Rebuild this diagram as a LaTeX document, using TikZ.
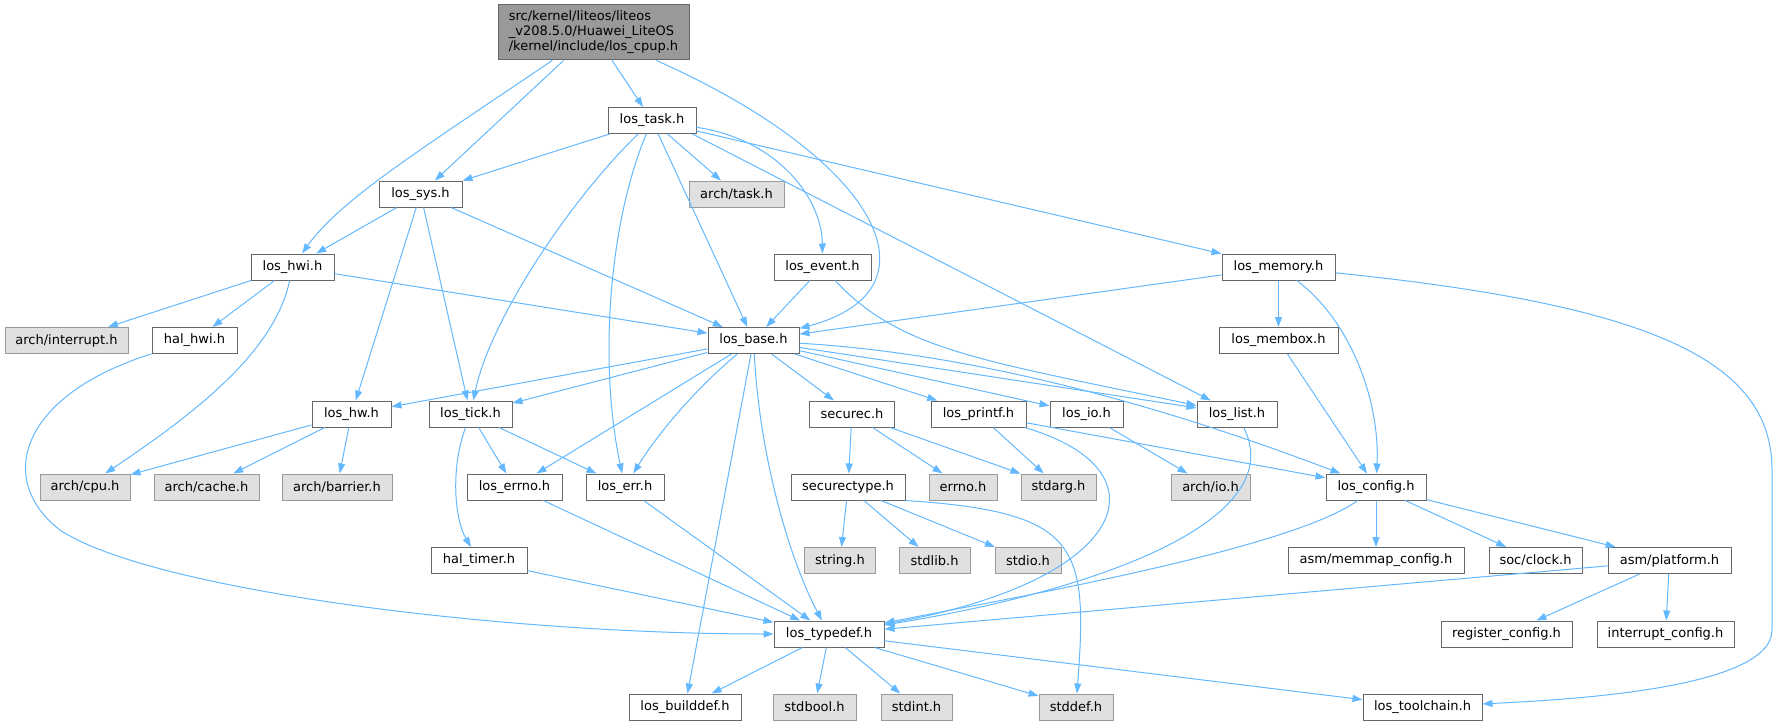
\documentclass[tikz,border=0pt]{standalone}
\usepackage{fontspec}
\setmainfont{DejaVu Sans}
\usetikzlibrary{arrows.meta}
\definecolor{edgeblue}{HTML}{63B8FF}
\definecolor{darkgrey}{HTML}{666666}
\definecolor{midgrey}{HTML}{999999}
\definecolor{lightgrey}{HTML}{E0E0E0}

\begin{document}
\begin{tikzpicture}[x=1pt,y=-1pt,
	file/.style={draw=darkgrey,fill=white,line width=1pt,minimum height=26pt,inner sep=0pt,font=\fontsize{13}{15}\selectfont},
	sysfile/.style={file,draw=midgrey,fill=lightgrey},
	rootfile/.style={file,draw=darkgrey,fill=midgrey,align=left,minimum height=55pt},
	edge/.style={draw=edgeblue,line width=1pt,-{Triangle[length=10pt,width=7pt]}}]
	\useasboundingbox (0,0) rectangle (1778,725);

	\node[rootfile,minimum width=191pt] (cpup) at (593.5,32.5) {src/kernel/liteos/liteos\\\_v208.5.0/Huawei\_LiteOS\\/kernel/include/los\_cpup.h};
	\node[file,minimum width=88pt] (task) at (652,120.5) {los\_task.h};
	\node[file,minimum width=83pt] (sys) at (420.5,194) {los\_sys.h};
	\node[sysfile,minimum width=95pt] (archtask) at (736.5,194) {arch/task.h};
	\node[file,minimum width=83pt] (hwi) at (292.5,267) {los\_hwi.h};
	\node[file,minimum width=97pt] (event) at (822.5,267) {los\_event.h};
	\node[file,minimum width=113pt] (memory) at (1278.5,267) {los\_memory.h};
	\node[sysfile,minimum width=123pt] (archint) at (66.5,340.5) {arch/interrupt.h};
	\node[file,minimum width=85pt] (halhwi) at (194.5,340.5) {hal\_hwi.h};
	\node[file,minimum width=91pt] (base) at (753.5,340.5) {los\_base.h};
	\node[file,minimum width=119pt] (membox) at (1278.5,340.5) {los\_membox.h};
	\node[file,minimum width=79pt] (hw) at (351.5,414) {los\_hw.h};
	\node[file,minimum width=83pt] (tick) at (470.5,414) {los\_tick.h};
	\node[file,minimum width=85pt] (securec) at (852,414) {securec.h};
	\node[file,minimum width=95pt] (printf) at (978.5,414) {los\_printf.h};
	\node[file,minimum width=73pt] (io) at (1086.5,414) {los\_io.h};
	\node[file,minimum width=80pt] (list) at (1237,414) {los\_list.h};
	\node[sysfile,minimum width=90pt] (cpu) at (85,487) {arch/cpu.h};
	\node[sysfile,minimum width=105pt] (cache) at (206.5,487) {arch/cache.h};
	\node[sysfile,minimum width=110pt] (barrier) at (337,487) {arch/barrier.h};
	\node[file,minimum width=95pt] (errno) at (514.5,487) {los\_errno.h};
	\node[file,minimum width=78pt] (err) at (625,487) {los\_err.h};
	\node[file,minimum width=114pt] (securetype) at (848,487) {securectype.h};
	\node[sysfile,minimum width=68pt] (syserrno) at (963,487) {errno.h};
	\node[sysfile,minimum width=75pt] (stdarg) at (1058.5,487) {stdarg.h};
	\node[sysfile,minimum width=79pt] (archio) at (1210.5,487) {arch/io.h};
	\node[file,minimum width=100pt] (config) at (1376,487) {los\_config.h};
	\node[file,minimum width=96pt] (timer) at (479,560.5) {hal\_timer.h};
	\node[sysfile,minimum width=71pt] (string) at (840,560.5) {string.h};
	\node[sysfile,minimum width=71pt] (stdlib) at (934.5,560.5) {stdlib.h};
	\node[sysfile,minimum width=66pt] (stdio) at (1028,560.5) {stdio.h};
	\node[file,minimum width=176pt] (memmap) at (1376,560.5) {asm/memmap\_config.h};
	\node[file,minimum width=93pt] (clock) at (1535.5,560.5) {soc/clock.h};
	\node[file,minimum width=123pt] (platform) at (1669.5,560.5) {asm/platform.h};
	\node[file,minimum width=110pt] (typedef) at (829,634) {los\_typedef.h};
	\node[file,minimum width=131pt] (regcfg) at (1506.5,634) {register\_config.h};
	\node[file,minimum width=137pt] (intcfg) at (1665.5,634) {interrupt\_config.h};
	\node[file,minimum width=112pt] (builddef) at (685,707) {los\_builddef.h};
	\node[sysfile,minimum width=83pt] (stdbool) at (814.5,707) {stdbool.h};
	\node[sysfile,minimum width=71pt] (stdint) at (916.5,707) {stdint.h};
	\node[sysfile,minimum width=74pt] (stddef) at (1076,707) {stddef.h};
	\node[file,minimum width=119pt] (toolchain) at (1422.5,707) {los\_toolchain.h};

	\foreach \a/\b in {cpup/sys,cpup/task,task/sys,task/base,task/archtask,task/memory,
		sys/hwi,sys/hw,sys/tick,sys/base,hwi/archint,hwi/halhwi,hwi/base,event/base,
		memory/base,memory/membox,membox/config,base/hw,base/tick,base/errno,base/builddef,
		base/securec,base/printf,base/io,base/list,hw/cpu,hw/cache,hw/barrier,tick/errno,tick/err,
		securec/securetype,securec/syserrno,securec/stdarg,printf/stdarg,printf/config,io/archio,
		errno/typedef,err/typedef,timer/typedef,securetype/string,securetype/stdlib,securetype/stdio,
		config/memmap,config/clock,config/platform,platform/regcfg,platform/intcfg,platform/typedef,
		typedef/builddef,typedef/stdbool,typedef/stdint,typedef/stddef,typedef/toolchain}{
		\draw[edge] (\a) -- (\b);
	}

	\draw[edge] ([xshift=-4pt]task.south east) -- (list);
	\draw[edge] (cpup) .. controls (420,150) and (340,200) .. (hwi);
	\draw[edge] (cpup) .. controls (880,160) and (945,290) .. (base);
	\draw[edge] (task) .. controls (570,200) and (490,320) .. (tick);
	\draw[edge] (task) .. controls (610,220) and (598,360) .. (err);
	\draw[edge] (task) .. controls (780,140) and (822,200) .. (event);
	\draw[edge] (event) .. controls (900,350) and (980,360) .. (list);
	\draw[edge] (memory) .. controls (1350,320) and (1380,400) .. (config);
	\draw[edge] (memory) .. controls (1650,305) and (1772,360) .. (1772,470) -- (1772,630) .. controls (1772,690) and (1560,700) .. (toolchain);
	\draw[edge] (halhwi) .. controls (20,395) and (-5,480) .. (60,530) .. controls (150,590) and (500,634) .. (typedef);
	\draw[edge] (hwi) .. controls (275,350) and (200,410) .. (cpu);
	\draw[edge] (base) .. controls (700,385) and (660,430) .. (err);
	\draw[edge] (base) .. controls (760,460) and (790,560) .. (typedef);
	\draw[edge] (base) .. controls (1000,355) and (1200,420) .. (config);
	\draw[edge] (tick) .. controls (450,470) and (455,520) .. (timer);
	\draw[edge] (printf) .. controls (1170,470) and (1130,580) .. (typedef);
	\draw[edge] (list) .. controls (1290,520) and (1100,590) .. (typedef);
	\draw[edge] (securetype.south east) .. controls (1080,512) and (1088,545) .. (stddef);
	\draw[edge] (config) .. controls (1290,550) and (1000,600) .. (typedef);
\end{tikzpicture}
\end{document}
